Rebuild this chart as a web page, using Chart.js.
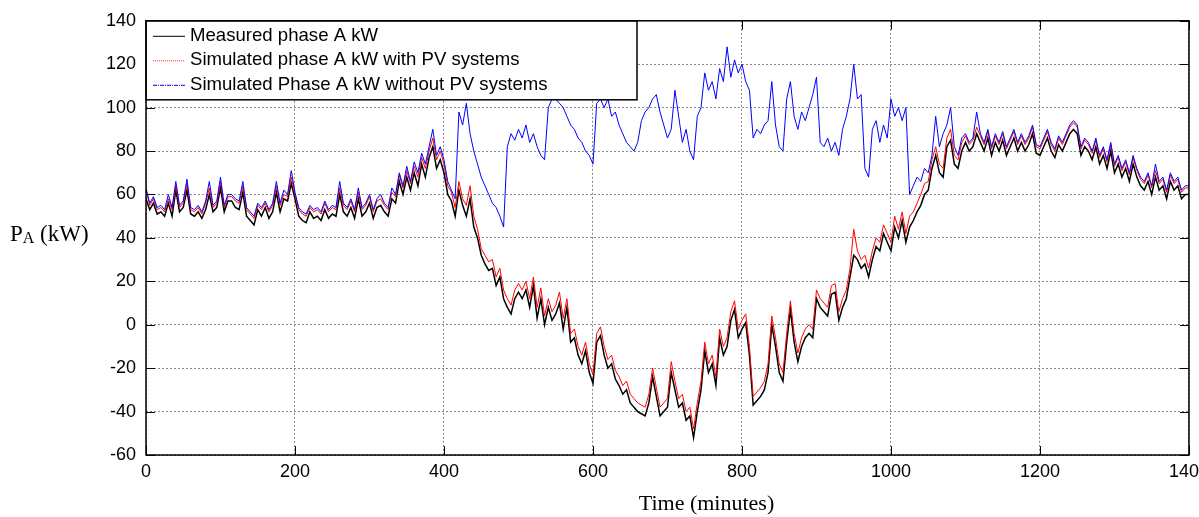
<!DOCTYPE html>
<html>
<head>
<meta charset="utf-8">
<script src="https://cdn.jsdelivr.net/npm/chart.js@4.4.0/dist/chart.umd.min.js"></script>
<style>
    html, body { margin: 0; padding: 0; background: #fff; overflow: hidden; }
    #wrap { width: 1215px; height: 517px; }
</style>
</head>
<body>
<div id="wrap"><canvas id="myChart" width="1215" height="517"></canvas></div>
<script>
// sampled every 5 minutes, 0 .. 1400
const minutes = Array.from({ length: 281 }, (v, i) => i * 5);

const measured = [
    58, 53, 56, 51, 52, 50, 56, 50, 62, 52, 54, 62, 51, 50, 52, 49, 53, 60, 52, 54,
    63, 52, 57, 57, 54, 53, 61, 50, 48, 46, 53, 50, 54, 49, 52, 61, 52, 58, 57, 65,
    58, 50, 48, 47, 52, 49, 50, 48, 53, 49, 51, 50, 60, 52, 50, 54, 49, 58, 50, 52,
    56, 49, 54, 55, 52, 50, 58, 56, 66, 60, 68, 62, 70, 64, 74, 68, 77, 82, 72, 76,
    70, 60, 57, 50, 62, 55, 50, 58, 45, 40, 32, 28, 25, 26, 18, 22, 12, 8, 5, 12,
    15, 12, 16, 8, 18, 3, 12, 0, 8, 2, 5, 10, -2, 8, -8, -6, -14, -18, -12, -22,
    -27, -8, -5, -14, -20, -18, -25, -28, -32, -30, -36, -38, -40, -41, -42, -36, -24, -33, -42, -40,
    -38, -22, -30, -38, -36, -44, -42, -52, -40, -30, -12, -22, -18, -28, -6, -14, -10, 2, 7, -6,
    -2, 1, -14, -37, -35, -33, -30, -22, 0, -10, -22, -26, -8, 7, -8, -17, -10, -6, -4, -6,
    12, 8, 6, 4, 14, 15, 2, 8, 12, 22, 32, 30, 26, 28, 22, 30, 36, 34, 42, 38,
    34, 45, 40, 48, 38, 45, 48, 52, 55, 60, 62, 72, 78, 70, 68, 82, 85, 74, 72, 80,
    84, 80, 82, 88, 84, 80, 86, 78, 84, 80, 85, 78, 82, 86, 80, 84, 80, 83, 88, 79,
    78, 82, 86, 80, 77, 83, 80, 84, 88, 90, 88, 78, 82, 80, 76, 82, 74, 78, 72, 80,
    70, 74, 68, 72, 66, 74, 68, 64, 62, 66, 60, 68, 62, 64, 58, 66, 62, 64, 58, 60,
    60
];

const withPV = [
    62, 55, 58, 53, 54, 52, 58, 53, 64, 54, 56, 65, 53, 52, 54, 51, 56, 63, 54, 56,
    66, 54, 59, 59, 57, 56, 64, 53, 51, 49, 55, 53, 56, 52, 55, 64, 55, 60, 59, 68,
    60, 53, 51, 50, 54, 52, 53, 51, 56, 52, 54, 53, 63, 55, 53, 57, 52, 61, 53, 55,
    59, 52, 57, 58, 55, 53, 61, 59, 69, 63, 71, 65, 73, 68, 77, 72, 80, 86, 76, 80,
    74, 64, 61, 54, 66, 58, 55, 64, 50, 44, 35, 32, 29, 30, 22, 26, 16, 12, 9, 16,
    19, 16, 20, 12, 22, 8, 17, 4, 12, 6, 9, 15, 3, 12, -4, -2, -10, -14, -8, -18,
    -23, -4, -1, -10, -16, -14, -21, -24, -28, -26, -32, -34, -36, -37, -38, -32, -20, -29, -38, -36,
    -34, -17, -26, -34, -32, -40, -38, -48, -36, -26, -8, -18, -14, -24, -2, -10, -6, 6, 11, -2,
    2, 5, -10, -33, -31, -29, -26, -18, 4, -6, -18, -22, -4, 11, -4, -13, -6, -2, 0, -2,
    16, 12, 10, 8, 18, 19, 6, 12, 16, 26, 44, 34, 30, 32, 26, 34, 40, 38, 46, 42,
    38, 50, 44, 52, 42, 50, 52, 56, 60, 65, 66, 76, 82, 74, 72, 86, 90, 78, 76, 84,
    87, 83, 85, 91, 87, 83, 89, 81, 87, 83, 88, 81, 85, 89, 83, 87, 83, 86, 91, 82,
    81, 85, 89, 83, 80, 86, 83, 87, 91, 93, 91, 81, 85, 83, 79, 85, 77, 81, 75, 83,
    73, 77, 71, 75, 69, 77, 71, 67, 65, 69, 63, 71, 65, 67, 61, 69, 65, 67, 61, 63,
    63
];

const withoutPV = [
    63, 56, 59, 54, 55, 53, 60, 54, 66, 55, 57, 67, 54, 53, 55, 52, 57, 66, 55, 57,
    68, 55, 60, 60, 58, 57, 66, 54, 52, 50, 56, 54, 57, 53, 56, 66, 56, 62, 60, 71,
    61, 54, 52, 51, 55, 53, 54, 52, 57, 53, 55, 54, 66, 56, 54, 58, 53, 63, 54, 56,
    60, 53, 58, 60, 56, 54, 63, 60, 70, 64, 73, 66, 75, 70, 79, 74, 82, 90, 78, 82,
    76, 66, 62, 58, 98, 92, 102, 88, 80, 74, 68, 64, 60, 56, 54, 50, 45, 82, 88, 85,
    90, 86, 92, 84, 88, 82, 78, 76, 100, 104, 104, 102, 100, 96, 92, 90, 86, 84, 80, 78,
    74, 102, 104, 100, 104, 96, 98, 92, 88, 84, 82, 80, 84, 94, 98, 100, 104, 106, 98, 92,
    86, 90, 108, 96, 84, 90, 80, 76, 96, 100, 116, 108, 112, 104, 118, 112, 128, 114, 122, 116,
    120, 112, 108, 86, 90, 88, 92, 94, 112, 92, 82, 80, 104, 112, 96, 90, 98, 94, 100, 106,
    114, 84, 82, 86, 80, 84, 78, 90, 96, 104, 120, 104, 106, 72, 68, 90, 94, 84, 92, 86,
    104, 96, 100, 94, 100, 60, 64, 68, 66, 72, 70, 78, 96, 82, 88, 92, 100, 82, 78, 86,
    88, 84, 86, 98, 88, 84, 90, 82, 88, 84, 89, 82, 86, 90, 84, 88, 84, 87, 92, 83,
    82, 86, 90, 84, 81, 87, 84, 88, 92, 94, 92, 82, 86, 84, 80, 86, 78, 82, 76, 84,
    74, 78, 72, 76, 70, 78, 72, 68, 66, 70, 64, 74, 66, 68, 62, 70, 66, 68, 62, 64,
    64
];

const xTicks = [0, 200, 400, 600, 800, 1000, 1200, 1400];
const yTicks = [-60, -40, -20, 0, 20, 40, 60, 80, 100, 120, 140];

const legendItems = [
    { text: 'Measured phase A kW', color: '#000000', dash: [] },
    { text: 'Simulated phase A kW with PV systems', color: '#ff3030', dash: [1, 1] },
    { text: 'Simulated Phase A kW without PV systems', color: '#0000ff', dash: [4, 1, 1, 1] },
];

const toPoints = (values) => values.map((v, i) => ({ x: minutes[i], y: v }));

// box, inner ticks, legend and axis titles (matlab look)
const frame = {
    id: 'frame',
    afterDraw(chart) {
        const { ctx, chartArea: a, scales } = chart;
        ctx.save();

        ctx.strokeStyle = '#000';
        ctx.lineWidth = 1;
        ctx.beginPath();
        xTicks.forEach((t) => {
            const x = Math.round(scales.x.getPixelForValue(t)) + 0.5;
            ctx.moveTo(x, a.bottom); ctx.lineTo(x, a.bottom - 9);
            ctx.moveTo(x, a.top); ctx.lineTo(x, a.top + 9);
        });
        yTicks.forEach((t) => {
            const y = Math.round(scales.y.getPixelForValue(t)) + 0.5;
            ctx.moveTo(a.left, y); ctx.lineTo(a.left + 9, y);
            ctx.moveTo(a.right, y); ctx.lineTo(a.right - 9, y);
        });
        ctx.stroke();

        // legend box
        const lx = a.left, ly = a.top, lw = 491, lh = 79;
        ctx.fillStyle = '#fff';
        ctx.fillRect(lx, ly, lw, lh);
        ctx.lineWidth = 1.5;
        ctx.strokeRect(lx, ly, lw, lh);
        ctx.font = '18.6px "Liberation Sans", Arial, sans-serif';
        ctx.textBaseline = 'middle';
        ctx.textAlign = 'left';
        legendItems.forEach((item, i) => {
            const y = ly + 15 + i * 24.5;
            ctx.strokeStyle = item.color;
            ctx.lineWidth = 1;
            ctx.setLineDash(item.dash);
            ctx.beginPath();
            ctx.moveTo(lx + 7, y + 0.5);
            ctx.lineTo(lx + 39, y + 0.5);
            ctx.stroke();
            ctx.setLineDash([]);
            ctx.fillStyle = '#000';
            ctx.fillText(item.text, lx + 44, y);
        });

        ctx.lineWidth = 1.5;
        ctx.strokeStyle = '#000';
        ctx.strokeRect(a.left, a.top, a.right - a.left, a.bottom - a.top);

        // axis titles
        ctx.fillStyle = '#000';
        ctx.textBaseline = 'alphabetic';
        ctx.font = '23px "Liberation Serif", "Times New Roman", serif';
        let x = 10;
        ctx.fillText('P', x, 241);
        x += ctx.measureText('P').width;
        ctx.font = '16px "Liberation Serif", "Times New Roman", serif';
        ctx.fillText('A', x, 243);
        x += ctx.measureText('A').width;
        ctx.font = '23px "Liberation Serif", "Times New Roman", serif';
        ctx.fillText(' (kW)', x, 241);

        ctx.font = '22px "Liberation Serif", "Times New Roman", serif';
        ctx.textAlign = 'center';
        ctx.fillText('Time (minutes)', (a.left + a.right) / 2 + 39, 510);

        ctx.restore();
    }
};

const ctx = document.getElementById('myChart').getContext('2d');

const config = {
    type: 'line',
    data: {
        datasets: [
            {
                label: legendItems[0].text,
                data: toPoints(measured),
                borderColor: '#000000',
                borderWidth: 1.5,
                pointRadius: 0,
                order: 3,
            },
            {
                label: legendItems[1].text,
                data: toPoints(withPV),
                borderColor: '#ff0000',
                borderWidth: 1,
                pointRadius: 0,
                order: 2,
            },
            {
                label: legendItems[2].text,
                data: toPoints(withoutPV),
                borderColor: '#0000ff',
                borderWidth: 1,
                pointRadius: 0,
                order: 1,
            },
        ],
    },
    options: {
        responsive: false,
        animation: false,
        devicePixelRatio: 1,
        layout: { padding: { left: 0, right: 24, top: 17, bottom: 0 } },
        plugins: {
            legend: { display: false },
            tooltip: { enabled: false },
        },
        scales: {
            x: {
                type: 'linear',
                min: 0,
                max: 1400,
                afterFit: (scale) => { scale.height = 62; },
                afterBuildTicks: (scale) => { scale.ticks = xTicks.map((v) => ({ value: v })); },
                ticks: {
                    color: '#000',
                    padding: 6,
                    maxRotation: 0,
                    callback: (v) => String(v),
                    font: { family: '"Liberation Sans", Arial, sans-serif', size: 18 },
                },
                grid: { color: '#8a8a8a', lineWidth: 1, drawTicks: false },
                border: { display: false, dash: [2, 2] },
            },
            y: {
                min: -60,
                max: 140,
                afterFit: (scale) => { scale.width = 146; },
                afterBuildTicks: (scale) => { scale.ticks = yTicks.map((v) => ({ value: v })); },
                ticks: {
                    color: '#000',
                    padding: 10,
                    callback: (v) => String(v),
                    font: { family: '"Liberation Sans", Arial, sans-serif', size: 18 },
                },
                grid: { color: '#8a8a8a', lineWidth: 1, drawTicks: false },
                border: { display: false, dash: [2, 2] },
            },
        },
    },
    plugins: [frame],
};

const myChart = new Chart(ctx, config);
</script>
</body>
</html>
